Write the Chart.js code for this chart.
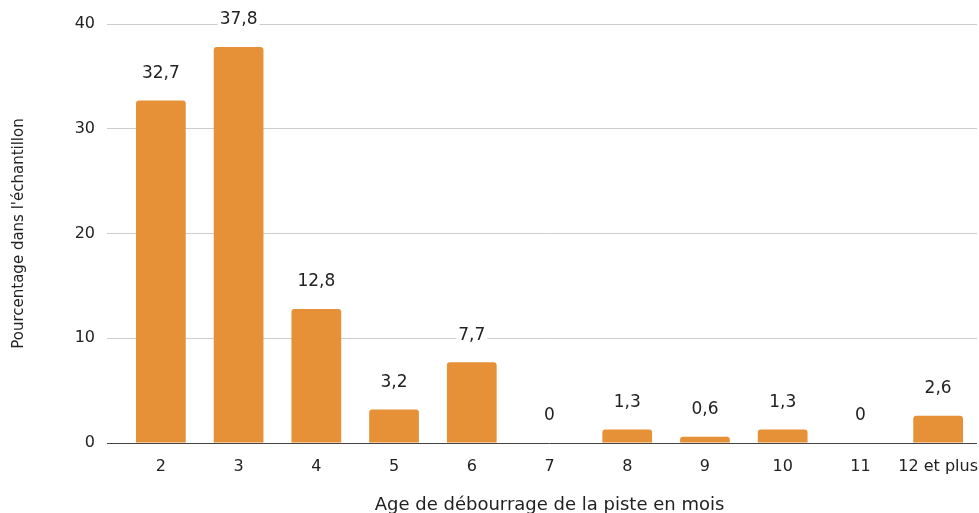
<!DOCTYPE html>
<html>
<head>
<meta charset="utf-8">
<script src="https://cdn.jsdelivr.net/npm/chart.js@4/dist/chart.umd.min.js"></script>
<style>
  html, body { margin: 0; padding: 0; background: #fff; overflow: hidden; }
  #wrap { position: relative; width: 979px; height: 530px; }
</style>
</head>
<body>
<div id="wrap"><canvas id="chart"></canvas></div>
<script>
// Age de débourrage — percentage of the sample per age (months)
const categories = ['2', '3', '4', '5', '6', '7', '8', '9', '10', '11', '12 et plus'];
const percentages = [32.7, 37.8, 12.8, 3.2, 7.7, 0, 1.3, 0.6, 1.3, 0, 2.6];
const yTicks = [0, 10, 20, 30, 40];

const FONT = '"DejaVu Sans", sans-serif';
const BAR_COLOR = '#E69138';

function frNumber(v) {
    return String(v).replace('.', ',');
}

// value labels above each bar, on a white box so the gridline breaks behind them
const barLabels = {
    id: 'barLabels',
    afterDatasetsDraw(chart) {
        const ctx = chart.ctx;
        const meta = chart.getDatasetMeta(0);
        ctx.save();
        ctx.font = '17px ' + FONT;
        ctx.textAlign = 'center';
        ctx.textBaseline = 'middle';
        meta.data.forEach(function(bar, i) {
            const txt = frNumber(percentages[i]);
            const w = ctx.measureText(txt).width;
            const y = bar.y - 27;
            ctx.fillStyle = '#fff';
            ctx.fillRect(bar.x - w / 2 - 2, y - 10, w + 4, 20);
            ctx.fillStyle = '#222';
            ctx.fillText(txt, bar.x, y);
        });
        ctx.restore();
    }
};

new Chart(document.getElementById('chart'), {
    type: 'bar',
    data: {
        labels: categories,
        datasets: [{
            data: percentages,
            backgroundColor: BAR_COLOR,
            borderRadius: 3,
            borderSkipped: 'start',
            categoryPercentage: 0.8,
            barPercentage: 0.8,
        }]
    },
    options: {
        responsive: true,
        maintainAspectRatio: false,
        animation: false,
        layout: { padding: { top: 24, right: 2, left: 0, bottom: 0 } },
        plugins: {
            legend: { display: false },
            tooltip: { enabled: false }
        },
        scales: {
            x: {
                grid: { display: false, drawTicks: false },
                border: { display: false },
                ticks: { color: '#222', font: { family: FONT, size: 16 }, padding: 14, maxRotation: 0, autoSkip: false },
                title: {
                    display: true,
                    text: 'Age de débourrage de la piste en mois',
                    color: '#222',
                    font: { family: FONT, size: 18 },
                    padding: { top: 0, bottom: 14 }
                },
                afterFit(scale) {
                    scale.height = 530 - 443;
                    scale.paddingLeft = 0;
                    scale.paddingRight = 0;
                }
            },
            y: {
                min: 0,
                max: 40,
                afterBuildTicks(scale) {
                    scale.ticks = yTicks.map(function(v) { return { value: v }; });
                },
                grid: {
                    color: function(c) { return c.tick && c.tick.value === 0 ? '#444' : '#ccc'; },
                    drawTicks: true,
                    tickLength: 15
                },
                border: { display: false },
                ticks: { color: '#222', font: { family: FONT, size: 16 }, padding: 12 },
                title: {
                    display: true,
                    text: "Pourcentage dans l'échantillon",
                    color: '#222',
                    font: { family: FONT, size: 15 },
                    padding: { top: 10, bottom: 0 }
                },
                afterFit(scale) {
                    scale.width = 122;
                    scale.paddingTop = 0;
                    scale.paddingBottom = 0;
                }
            }
        }
    },
    plugins: [barLabels]
});
</script>
</body>
</html>
